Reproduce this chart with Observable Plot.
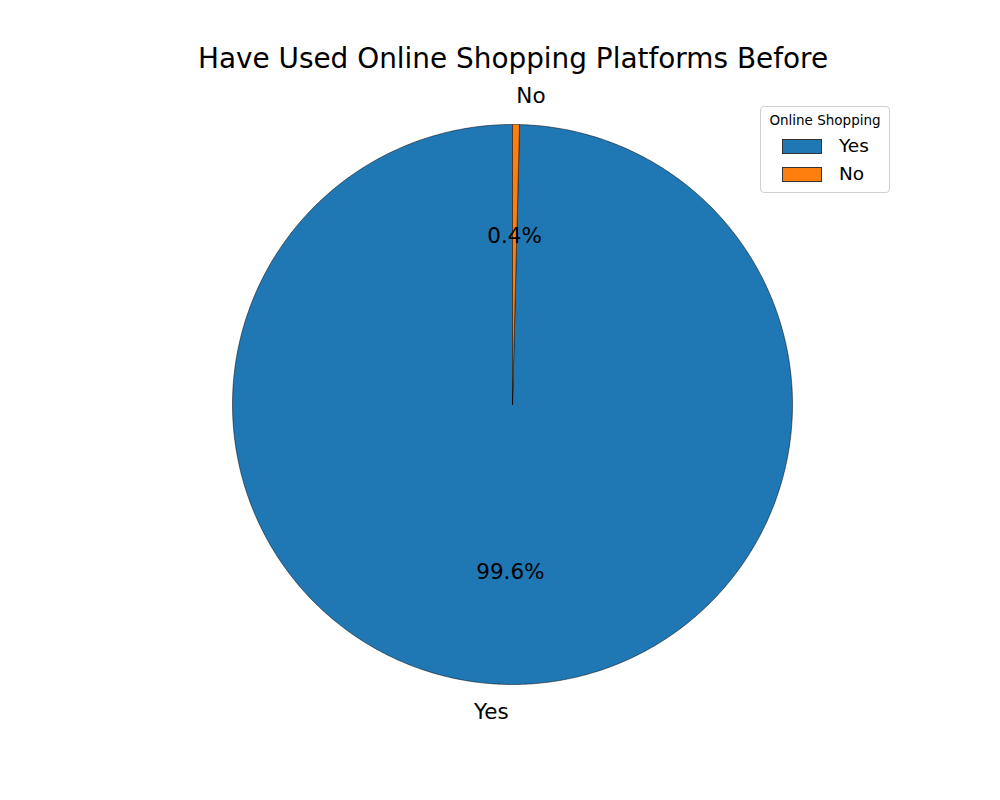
<!DOCTYPE html>
<html>
<head>
<meta charset="utf-8">
<script src="https://cdn.jsdelivr.net/npm/d3@7"></script>
<script src="https://cdn.jsdelivr.net/npm/@observablehq/plot@0.6"></script>
<style>
  body { margin: 0; background: #fff; font-family: "DejaVu Sans", sans-serif; }
  #wrap { position: relative; width: 1000px; height: 800px; }
  #title { height: 80px; padding-top: 44px; padding-left: 26px; box-sizing: border-box; line-height: 30px; font-size: 27.9px; text-align: center; color: #000; }
  #legend { position: absolute; left: 760px; top: 106px; width: 128px; height: 85px; border: 1px solid #d0d0d0; border-radius: 4px; background: rgba(255,255,255,0.8); box-sizing: content-box; }
  #legend .lt { position: absolute; left: 0; width: 100%; top: 5px; text-align: center; font-size: 13.5px; line-height: 16px; }
  #legend .row { position: absolute; left: 21px; height: 20px; display: flex; align-items: center; }
  #legend .sw { width: 38px; height: 13px; border: 0.8px solid #333; margin-right: 17px; }
  #legend .lab { font-size: 18.5px; line-height: 20px; }
</style>
</head>
<body>
<div id="wrap">
  <div id="title">Have Used Online Shopping Platforms Before</div>
  <div id="chart"></div>
  <div id="legend"></div>
</div>
<script>
const categories = ["Yes", "No"];
const values = [99.6, 0.4];
const colors = ["#1f77b4", "#ff7f0e"];
const legendTitle = "Online Shopping";
const startAngle = 90; // degrees, counterclockwise

// build wedges from data
const total = d3.sum(values);
const wedgePts = [];
const labels = [];
let a0 = startAngle;
categories.forEach((c, i) => {
  const span = values[i] / total * 360;
  const a1 = a0 + span;
  const n = Math.max(2, Math.ceil(span / 0.5));
  wedgePts.push({cat: c, x: 0, y: 0});
  for (let k = 0; k <= n; k++) {
    const t = (a0 + (a1 - a0) * k / n) * Math.PI / 180;
    wedgePts.push({cat: c, x: Math.cos(t), y: Math.sin(t)});
  }
  wedgePts.push({cat: c, x: 0, y: 0});
  const mid = (a0 + a1) / 2 * Math.PI / 180;
  labels.push({
    cat: c,
    lx: 1.1 * Math.cos(mid), ly: 1.1 * Math.sin(mid),
    px: 0.6 * Math.cos(mid), py: 0.6 * Math.sin(mid),
    anchor: Math.cos(mid) < 0 ? "end" : "start",
    pct: (values[i] / total * 100).toFixed(1) + "%"
  });
  a0 = a1;
});

const R = 280, cx = 512, cy = 324;
const chart = Plot.plot({
  width: 1000,
  height: 720,
  margin: 0,
  style: {fontFamily: "DejaVu Sans, sans-serif", background: "transparent"},
  x: {domain: [-1, 1], range: [cx - R, cx + R], axis: null},
  y: {domain: [-1, 1], range: [cy + R, cy - R], axis: null},
  color: {domain: categories, range: colors},
  marks: [
    Plot.line(wedgePts, {x: "x", y: "y", z: "cat", fill: "cat", stroke: "#000", strokeWidth: 0.5, curve: "linear", strokeLinejoin: "round"}),
    Plot.text(labels.filter(d => d.anchor === "end"), {x: "lx", y: "ly", text: "cat", fontSize: 21.5, fill: "#000", textAnchor: "end"}),
    Plot.text(labels.filter(d => d.anchor === "start"), {x: "lx", y: "ly", text: "cat", fontSize: 21.5, fill: "#000", textAnchor: "start"}),
    Plot.text(labels, {x: "px", y: "py", text: "pct", fontSize: 21.5, fill: "#000", textAnchor: "middle"})
  ]
});
document.getElementById("chart").appendChild(chart);

const lg = document.getElementById("legend");
const t = document.createElement("div");
t.className = "lt"; t.textContent = legendTitle; lg.appendChild(t);
categories.forEach((c, i) => {
  const r = document.createElement("div");
  r.className = "row";
  r.style.top = (29 + i * 28) + "px";
  const sw = document.createElement("div");
  sw.className = "sw"; sw.style.background = colors[i];
  const lab = document.createElement("span");
  lab.className = "lab"; lab.textContent = c;
  r.appendChild(sw); r.appendChild(lab);
  lg.appendChild(r);
});
</script>
</body>
</html>
